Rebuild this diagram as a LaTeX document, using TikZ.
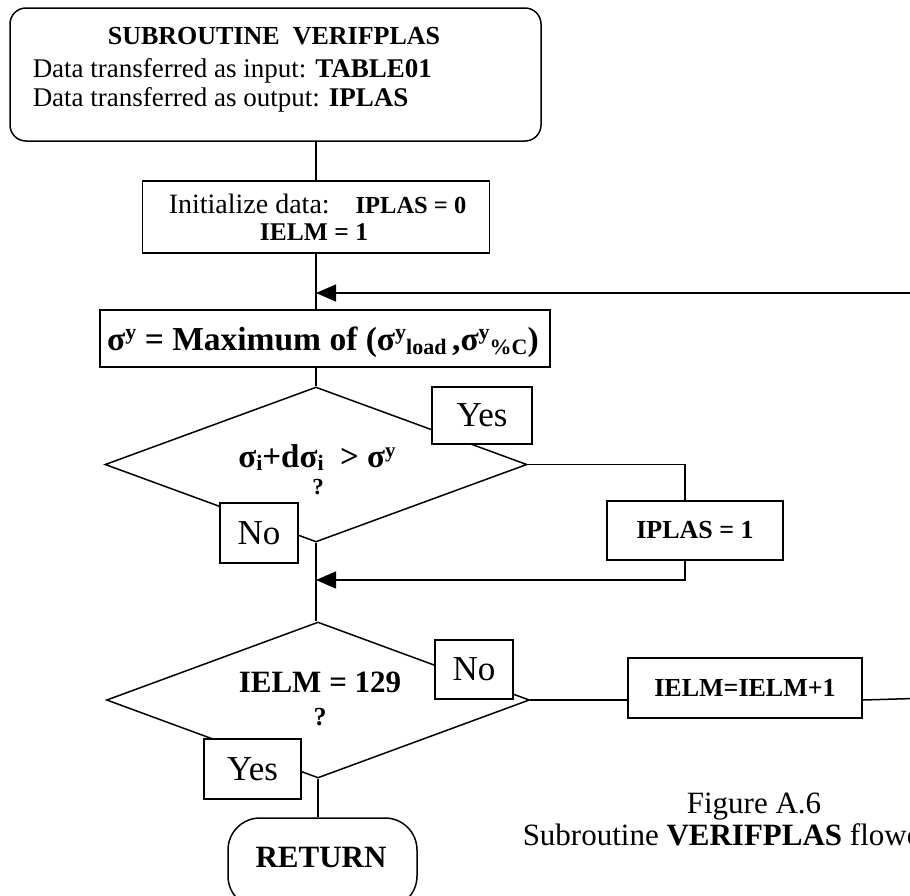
\documentclass[tikz,border=0pt]{standalone}
\usepackage{fontspec}
\setmainfont{Liberation Serif}
\usetikzlibrary{shapes.geometric,arrows.meta,calc}

\newcommand{\fs}[1]{\fontsize{#1}{#1}\selectfont}
% raised / lowered indices with explicit size and shift
\newcommand{\hi}[3]{\raisebox{#1}{\fs{#2}#3}}

\begin{document}
\begin{tikzpicture}[x=1pt,y=-1pt,line width=1.5pt,
  box/.style={draw,rectangle,inner sep=0pt,fill=white},
  decision/.style={draw,diamond,inner sep=0pt},
  tag/.style={box,font=\fs{35}},
  flow/.style={line width=1.5pt},
  tip/.style={-{Triangle[length=20pt,width=17pt]}}]

\useasboundingbox (0,0) rectangle (910,895);
\clip (0,0) rectangle (910,895);

% start block
\node[draw,rectangle,rounded corners=16pt,minimum width=531pt,minimum height=133pt]
  (top) at (275.5,74.5) {};
\node[anchor=base,inner sep=0pt] (title) at (274,44) {\fs{26}\bfseries SUBROUTINE\ \ VERIFPLAS};
\node[anchor=base west,inner sep=0pt] (inA) at (32,77)
  {\fs{27}Data transferred as input: \textbf{TABLE01}};
\node[anchor=base west,inner sep=0pt] (inB) at (32,106)
  {\fs{27}Data transferred as output: \textbf{IPLAS}};

% initialisation
\node[box,minimum width=347pt,minimum height=72pt] (init) at (316,217) {};
\node[anchor=base west,inner sep=0pt] (initA) at (168,213)
  {\fs{28}Initialize data:\hspace{26pt}\fs{24.5}\bfseries IPLAS = 0};
\node[anchor=base,inner sep=0pt] (initB) at (314,240) {\fs{25.5}\bfseries IELM = 1};

% yield stress
\node[box,minimum width=450pt,minimum height=57pt] (sig) at (325,338.5) {};
\node[anchor=base,inner sep=0pt] (sigT) at (323,350)
  {\fs{33.5}\bfseries σ\hi{11pt}{22}{y} = Maximum of (σ\hi{11pt}{22}{y}\hi{-4pt}{22}{load}\,,σ\hi{11pt}{22}{y}\hi{-4pt}{22}{\%C})};

% first test
\node[decision,minimum width=422pt,minimum height=155pt] (d1) at (316,464.5) {};
\node[anchor=base,inner sep=0pt] (d1A) at (317,467)
  {\fs{33}\bfseries σ\hi{-3pt}{22}{i}+dσ\hi{-3pt}{22}{i}\ \ > σ\hi{10pt}{21}{y}};
\node[anchor=base,inner sep=0pt] (d1B) at (318,494) {\fs{23}\bfseries ?};
\node[tag,minimum width=100pt,minimum height=57pt] (yes1) at (482,415.5) {Yes};
\node[tag,minimum width=78pt,minimum height=60pt] (no1) at (259,533) {No};

\node[box,minimum width=176pt,minimum height=59pt] (iplas) at (695,530.5)
  {\fs{26}\bfseries IPLAS = 1};

% second test
\node[decision,minimum width=423pt,minimum height=156pt] (d2) at (318,700) {};
\node[anchor=base,inner sep=0pt] (d2A) at (320,692) {\fs{31}\bfseries IELM = 129};
\node[anchor=base,inner sep=0pt] (d2B) at (320,725) {\fs{26}\bfseries ?};
\node[tag,minimum width=78pt,minimum height=59pt] (no2) at (474,669.5) {No};
\node[tag,minimum width=97pt,minimum height=60pt] (yes2) at (252.5,769) {Yes};

\node[box,minimum width=234pt,minimum height=60pt] (inc) at (745,688)
  {\fs{26}\bfseries IELM=IELM+1};

% end
\node[draw,rectangle,rounded corners=32pt,minimum width=189pt,minimum height=90pt,inner sep=0pt]
  (ret) at (322.5,863) {};
\node[anchor=base,inner sep=0pt] (retT) at (321,867) {\fs{31}\bfseries RETURN};

% caption
\node[anchor=base,inner sep=0pt] (capA) at (754,813) {\fs{31}Figure A.6};
\node[anchor=base west,inner sep=0pt] (capB) at (522,845)
  {\fs{31}Subroutine \textbf{VERIFPLAS} flowchart};

% junction points
\coordinate (j0) at (316,293);
\coordinate (j1) at (316,580);
\coordinate (iplasIn) at ($(iplas.north)+(-10,0)$);
\coordinate (iplasOut) at ($(iplas.south)+(-10,0)$);
\coordinate (loopR) at (930,698);
\coordinate (loopT) at (930,293);

% connectors
\draw[flow] (top.south -| init.north) -- (init.north);
\draw[flow] (init.south) -- (init.south |- sig.north);
\draw[flow,tip] (loopT) -- (j0);
\draw[flow] (sig.south -| d1.north) -- (d1.north);
\draw[flow] (d1.east) -| (iplasIn);
\draw[flow,tip] (iplasOut) |- (j1);
\draw[flow] (d1.south) -- (d1.south |- d2.north);
\draw[flow] (d2.east) -- (d2.east -| inc.west);
\draw[flow] (inc.east |- d2.east) -- (loopR) -- (loopT);
\draw[flow] (d2.south) -- (d2.south |- ret.north);

% answer labels drawn over the decision outlines
\node[tag,minimum width=100pt,minimum height=57pt] at (yes1) {Yes};
\node[tag,minimum width=78pt,minimum height=60pt] at (no1) {No};
\node[tag,minimum width=78pt,minimum height=59pt] at (no2) {No};
\node[tag,minimum width=97pt,minimum height=60pt] at (yes2) {Yes};
\end{tikzpicture}
\end{document}
